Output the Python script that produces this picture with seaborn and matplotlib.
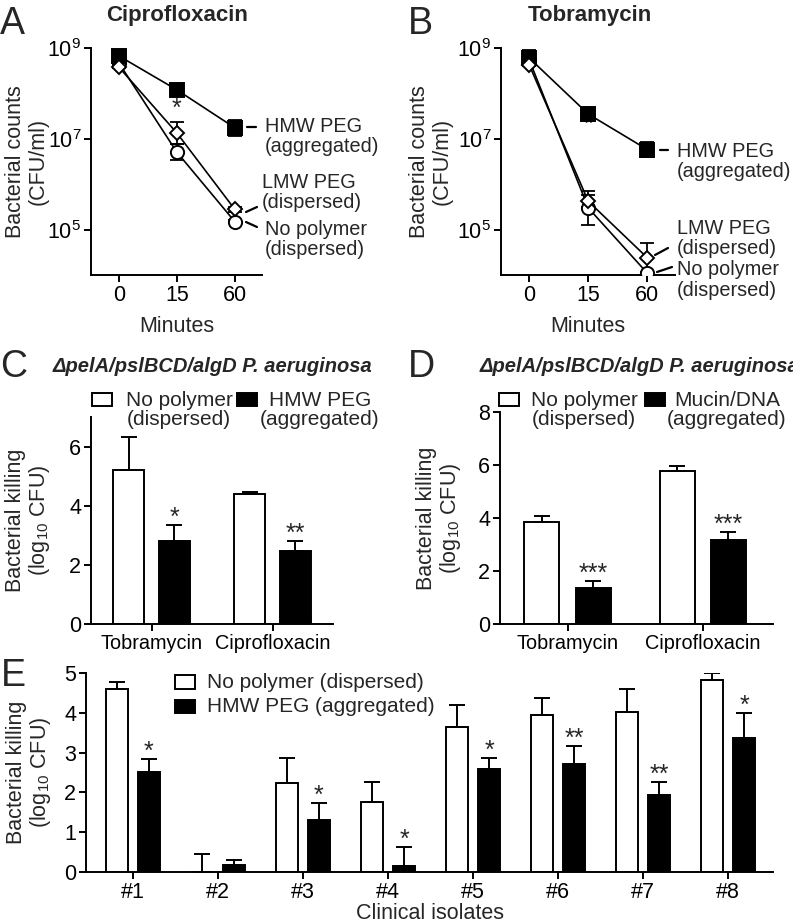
import numpy as np
import pandas as pd
import matplotlib
matplotlib.use("Agg")
import matplotlib.pyplot as plt
import seaborn as sns
from matplotlib.patches import Rectangle
from matplotlib.lines import Line2D
from matplotlib.ticker import NullLocator

# --- data ---
minutes = ["0", "15", "60"]

# panel A, ciprofloxacin (CFU/ml), errors in log10 units
cipro_none = [4.7e8, 5.1e6, 1.5e5]
cipro_none_err = [0.05, 0.18, 0.03]
cipro_hmw = [6.7e8, 1.2e8, 1.75e7]
cipro_hmw_err = [0.08, 0.05, 0.18]
cipro_lmw = [3.8e8, 1.35e7, 2.8e5]
cipro_lmw_err = [0.03, 0.24, 0.05]

# panel B, tobramycin
tobra_none = [5.4e8, 3.0e5, 1.1e4]
tobra_none_err = [0.05, 0.38, 0.03]
tobra_hmw = [6.0e8, 3.5e7, 5.8e6]
tobra_hmw_err = [0.18, 0.05, 0.17]
tobra_lmw = [4.2e8, 4.2e5, 2.4e4]
tobra_lmw_err = [0.03, 0.13, 0.33]

# panel C
drugs = ["Tobramycin", "Ciprofloxacin"]
c_none = [5.22, 4.41]
c_none_err = [1.12, 0.06]
c_hmw = [2.81, 2.47]
c_hmw_err = [0.54, 0.34]
c_stars = ["*", "**"]

# panel D
d_none = [3.84, 5.76]
d_none_err = [0.24, 0.20]
d_mucin = [1.36, 3.16]
d_mucin_err = [0.28, 0.32]
d_stars = ["***", "***"]

# panel E
isolates = ["#1", "#2", "#3", "#4", "#5", "#6", "#7", "#8"]
e_none = [4.60, 0.0, 2.23, 1.76, 3.65, 3.95, 4.02, 4.82]
e_none_err = [0.17, 0.45, 0.63, 0.50, 0.55, 0.42, 0.58, 0.17]
e_hmw = [2.51, 0.18, 1.31, 0.15, 2.59, 2.71, 1.94, 3.37]
e_hmw_err = [0.33, 0.12, 0.42, 0.48, 0.27, 0.46, 0.32, 0.62]
e_stars = ["*", "", "*", "*", "*", "**", "**", "*"]

W, H = 793, 923
TICK_FS = 15.5
LABEL_FS = 15.5
TEXT_FS = 15
STAR_FS = 18

sns.set_theme(style="ticks")
plt.rcParams['font.family'] = ['Liberation Sans', 'DejaVu Sans']
plt.rcParams['mathtext.fontset'] = 'custom'
plt.rcParams['mathtext.rm'] = 'Liberation Sans'
plt.rcParams['mathtext.it'] = 'Liberation Sans:italic'
plt.rcParams['mathtext.bf'] = 'Liberation Sans:bold'

fig = plt.figure(figsize=(W / 100, H / 100), dpi=100)


def fxy(x, y):
    return x / W, 1 - y / H


def box(l, t, r, b):
    return fig.add_axes([l / W, 1 - b / H, (r - l) / W, (b - t) / H])


def style(ax):
    sns.despine(ax=ax)
    for s in ["left", "bottom"]:
        ax.spines[s].set_linewidth(1.4)
        ax.spines[s].set_color("black")
    ax.tick_params(direction="out", length=5, width=1.4, colors="black",
                   labelsize=TICK_FS, pad=2)


def ftext(x, y, s, **kw):
    kw.setdefault("fontsize", TEXT_FS)
    fig.text(*fxy(x, y), s, **kw)


def fline(x1, y1, x2, y2):
    fig.add_artist(Line2D([x1 / W, x2 / W], [1 - y1 / H, 1 - y2 / H],
                          transform=fig.transFigure, color="black", lw=1.6))


def swatch(x1, y1, x2, y2, color):
    fig.add_artist(Rectangle(fxy(x1, y2), (x2 - x1) / W, (y2 - y1) / H,
                             transform=fig.transFigure, facecolor=color,
                             edgecolor="black", lw=1.4))


def kill_curve(ax, series):
    ax.set_yscale("log")
    pos = np.arange(len(minutes))
    for vals, errs, marker, face, ms in series:
        vals = np.array(vals)
        errs = np.array(errs)
        lo = vals - vals / 10 ** errs
        hi = vals * 10 ** errs - vals
        ax.errorbar(pos, vals, yerr=[lo, hi], fmt="none", ecolor="black",
                    elinewidth=1.3, capsize=5, capthick=1.3, zorder=2)
        sns.lineplot(x=pos, y=vals, marker=marker, markersize=ms, color="black",
                     markerfacecolor=face, markeredgecolor="black",
                     markeredgewidth=1.4, linewidth=1.2, ax=ax, zorder=3)
    ax.set_ylim(1e4, 1e9)
    ax.set_xlim(-0.48, 2.47)
    ax.set_yticks([1e5, 1e7, 1e9])
    ax.set_yticklabels(["$10^{5}$", "$10^{7}$", "$10^{9}$"])
    ax.yaxis.set_minor_locator(NullLocator())
    ax.set_xticks(pos)
    ax.set_xticklabels(minutes)
    style(ax)
    ax.set_xlabel("Minutes", fontsize=LABEL_FS)
    ax.set_ylabel("Bacterial counts\n(CFU/ml)", fontsize=LABEL_FS, linespacing=1.05)


def kill_bars(ax, cats, a, a_err, b, b_err, stars, names):
    df = pd.DataFrame({"cat": cats * 2,
                       "cond": [names[0]] * len(cats) + [names[1]] * len(cats),
                       "val": a + b})
    sns.barplot(data=df, x="cat", y="val", hue="cond", hue_order=names,
                palette=["white", "black"], edgecolor="black", linewidth=1.4,
                width=0.76, gap=0.32, errorbar=None, legend=False, ax=ax, zorder=2)
    n = len(cats)
    bars = ax.patches[:2 * n]
    xs = [p.get_x() + p.get_width() / 2 for p in bars]
    hs = np.array(a + b)
    errs = np.array(a_err + b_err)
    ax.errorbar(xs, hs, yerr=[np.zeros_like(errs), errs], fmt="none",
                ecolor="black", elinewidth=1.4, capsize=5.5, capthick=1.4, zorder=3)
    for i, s in enumerate(stars):
        if s:
            ax.text(xs[n + i], hs[n + i] + errs[n + i], s, ha="center",
                    va="baseline", fontsize=STAR_FS)
    style(ax)
    ax.set_xlabel("")
    ax.set_ylabel("Bacterial killing\n(log$_{10}$ CFU)", fontsize=LABEL_FS,
                  linespacing=1.05)


# ---------- A ----------
ax_a = box(91, 48, 262, 275)
kill_curve(ax_a, [(cipro_none, cipro_none_err, "o", "white", 9.5),
                  (cipro_hmw, cipro_hmw_err, "s", "black", 9.5),
                  (cipro_lmw, cipro_lmw_err, "D", "white", 7.5)])
ax_a.text(1, 10 ** 7.5, "*", ha="center", va="baseline", fontsize=STAR_FS)
ax_a.yaxis.set_label_coords(-0.25, 0.5)
ax_a.xaxis.set_label_coords(0.5, -0.18)

# ---------- B ----------
ax_b = box(501, 48, 675, 275)
kill_curve(ax_b, [(tobra_none, tobra_none_err, "o", "white", 9.5),
                  (tobra_hmw, tobra_hmw_err, "s", "black", 9.5),
                  (tobra_lmw, tobra_lmw_err, "D", "white", 7.5)])
ax_b.text(1, 10 ** 7.15, "*", ha="center", va="baseline", fontsize=STAR_FS, zorder=1)
ax_b.yaxis.set_label_coords(-0.28, 0.5)
ax_b.xaxis.set_label_coords(0.5, -0.18)

# ---------- C ----------
ax_c = box(91, 417, 333, 624)
kill_bars(ax_c, drugs, c_none, c_none_err, c_hmw, c_hmw_err, c_stars,
          ["No polymer", "HMW PEG"])
ax_c.set_ylim(0, 7)
ax_c.set_yticks([0, 2, 4, 6])
ax_c.set_xlim(-0.5, 1.5)
ax_c.tick_params(axis="x", labelsize=14.3)
ax_c.yaxis.set_label_coords(-0.16, 0.5)

# ---------- D ----------
ax_d = box(500, 412, 773, 624)
kill_bars(ax_d, drugs, d_none, d_none_err, d_mucin, d_mucin_err, d_stars,
          ["No polymer", "Mucin/DNA"])
ax_d.set_ylim(0, 8)
ax_d.set_yticks([0, 2, 4, 6, 8])
ax_d.set_xlim(-0.5, 1.52)
ax_d.tick_params(axis="x", labelsize=14.3)
ax_d.yaxis.set_label_coords(-0.135, 0.5)

# ---------- E ----------
ax_e = box(86, 673, 773, 872)
kill_bars(ax_e, isolates, e_none, e_none_err, e_hmw, e_hmw_err, e_stars,
          ["No polymer", "HMW PEG"])
ax_e.set_ylim(0, 5)
ax_e.set_yticks(range(6))
ax_e.set_xlim(-0.55, 7.53)
ax_e.set_xlabel("Clinical isolates", fontsize=LABEL_FS)
ax_e.xaxis.set_label_coords(0.5, -0.155)
ax_e.yaxis.set_label_coords(-0.048, 0.5)

# ---------- titles, panel letters, labels ----------
ftext(177, 15, "Ciprofloxacin", ha="center", va="center", fontweight="bold", fontsize=16)
ftext(590, 15, "Tobramycin", ha="center", va="center", fontweight="bold", fontsize=16)
sub = "ΔpelA/pslBCD/algD P. aeruginosa"
ftext(53, 367, sub, ha="left", va="center", fontweight="bold", style="italic", fontsize=14.5)
ftext(480, 367, sub, ha="left", va="center", fontweight="bold", style="italic", fontsize=14.5)
for letter, (x, y) in {"A": (12, 24), "B": (420, 24), "C": (14, 367),
                       "D": (421, 367), "E": (13, 676)}.items():
    ftext(x, y, letter, ha="center", va="center", fontsize=27)

# curve labels A
CL = 14.3
fline(247, 127, 256, 127)
ftext(265, 136.5, "HMW PEG\n(aggregated)", ha="left", va="center", linespacing=1.12, fontsize=CL)
fline(246, 212, 257, 207)
ftext(262, 192.5, "LMW PEG\n(dispersed)", ha="left", va="center", linespacing=1.12, fontsize=CL)
fline(246, 222, 257, 227)
ftext(265, 239.5, "No polymer\n(dispersed)", ha="left", va="center", linespacing=1.12, fontsize=CL)

# curve labels B
fline(660, 150, 668, 150)
ftext(677, 161.5, "HMW PEG\n(aggregated)", ha="left", va="center", linespacing=1.12, fontsize=CL)
fline(655, 255, 668, 248)
ftext(677, 238.5, "LMW PEG\n(dispersed)", ha="left", va="center", linespacing=1.12, fontsize=CL)
fline(657, 272, 672, 267)
ftext(677, 280, "No polymer\n(dispersed)", ha="left", va="center", linespacing=1.12, fontsize=CL)

# legend C
swatch(92, 393, 112, 406, "white")
ftext(179, 409.5, "No polymer\n(dispersed)", ha="center", va="center", linespacing=1.0)
swatch(237, 393, 257, 406, "black")
ftext(320, 409.5, "HMW PEG\n(aggregated)", ha="center", va="center", linespacing=1.0)

# legend D
swatch(499, 393, 519, 406, "white")
ftext(584, 409.5, "No polymer\n(dispersed)", ha="center", va="center", linespacing=1.0)
swatch(645, 393, 665, 406, "black")
ftext(727, 409.5, "Mucin/DNA\n(aggregated)", ha="center", va="center", linespacing=1.0)

# legend E
swatch(175, 675, 195, 689, "white")
ftext(207, 682, "No polymer (dispersed)", ha="left", va="center")
swatch(175, 700, 195, 713, "black")
ftext(207, 707, "HMW PEG (aggregated)", ha="left", va="center")

fig.savefig("out.png", dpi=100)
